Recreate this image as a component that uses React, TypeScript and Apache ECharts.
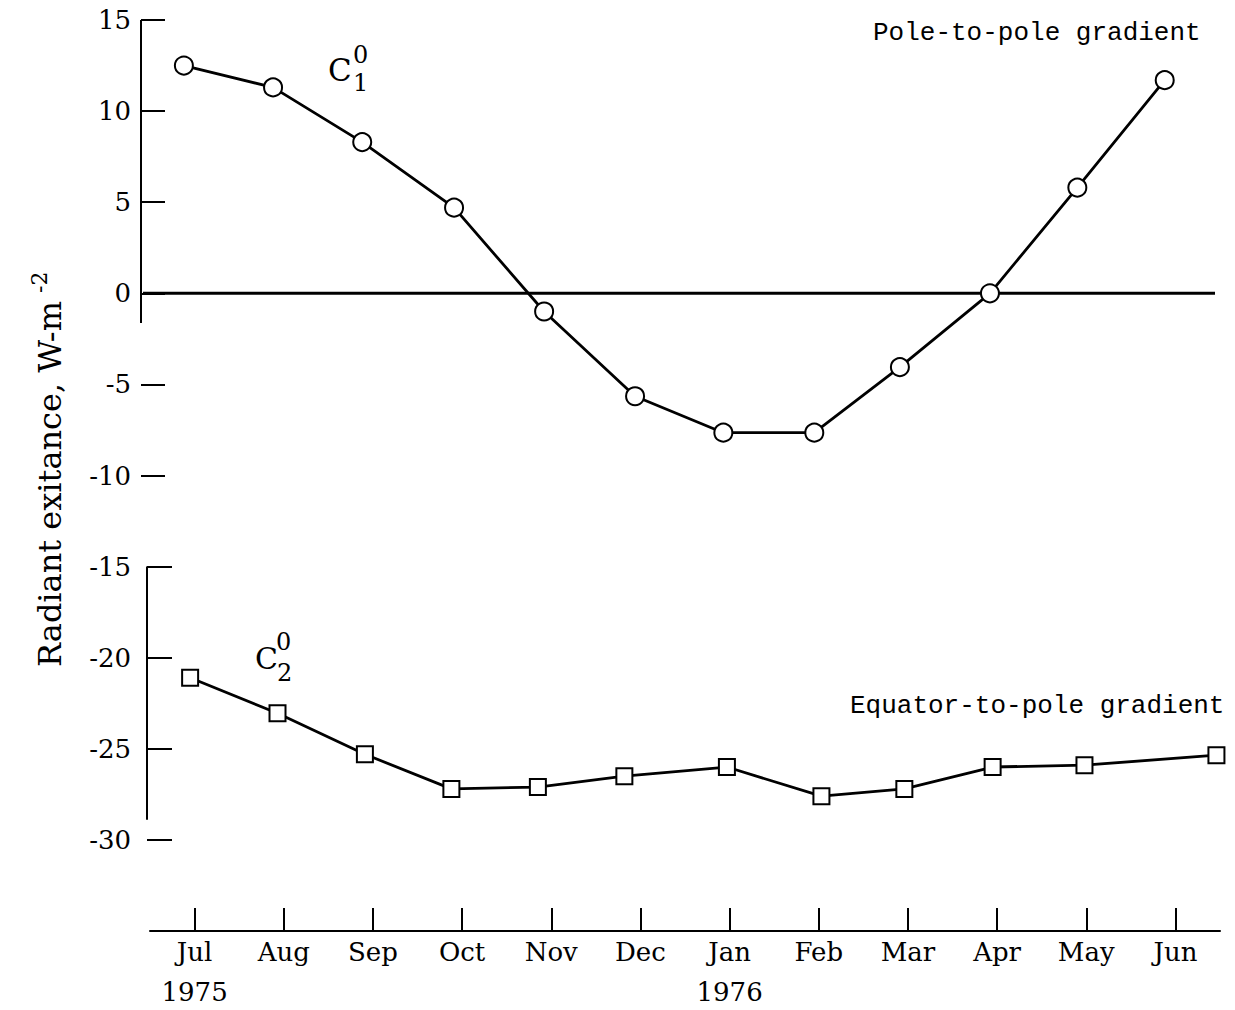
import React, { useEffect, useRef } from 'react';
import * as echarts from 'echarts';

// Month categories and year sub-labels
const months = ['Jul', 'Aug', 'Sep', 'Oct', 'Nov', 'Dec', 'Jan', 'Feb', 'Mar', 'Apr', 'May', 'Jun'];
const yearLabels = ['1975', '', '', '', '', '', '1976', '', '', '', '', ''];

// C1^0: pole-to-pole gradient (x in month units, 0 = Jul)
const c1X = [-0.12, 0.88, 1.88, 2.91, 3.92, 4.94, 5.93, 6.95, 7.91, 8.92, 9.9, 10.88];
const c1Y = [12.5, 11.3, 8.3, 4.7, -1.0, -5.65, -7.65, -7.65, -4.05, 0.0, 5.8, 11.7];

// C2^0: equator-to-pole gradient
const c2X = [-0.05, 0.93, 1.91, 2.88, 3.85, 4.82, 5.97, 7.03, 7.96, 8.95, 9.98, 11.46];
const c2Y = [-21.1, -23.05, -25.3, -27.2, -27.1, -26.5, -26.0, -27.6, -27.2, -26.0, -25.9, -25.35];

// Tick values of the broken y-axis
const upperTicks = [15, 10, 5, 0, -5, -10];
const lowerTicks = [-15, -20, -25, -30];

const SERIF = 'DejaVu Serif';
const MONO = 'Liberation Mono';

export default function App() {
  const ref = useRef<HTMLDivElement>(null);

  useEffect(() => {
    if (!ref.current) return;
    const chart = echarts.init(ref.current, undefined, { renderer: 'svg' });
    const black = '#000';
    const tickStyle = { color: black, width: 2 };

    const option: any = {
      animation: false,
      backgroundColor: '#fff',
      grid: { left: 150, right: 15, top: 20, height: 911, containLabel: false, outerBoundsMode: 'none' },
      xAxis: [
        {
          type: 'category',
          data: months,
          position: 'bottom',
          boundaryGap: true,
          axisLine: { show: true, onZero: false, lineStyle: { color: black, width: 2 } },
          axisTick: { show: true, inside: true, alignWithLabel: true, length: 23, lineStyle: tickStyle },
          axisLabel: {
            interval: 0,
            margin: 1,
            color: black,
            fontFamily: SERIF,
            fontSize: 26,
            lineHeight: 40,
            formatter: (v: string, i: number) => (yearLabels[i] ? v + '\n' + yearLabels[i] : v),
          },
          splitLine: { show: false },
        },
        { type: 'value', min: -0.5, max: 11.5, show: false, axisLine: { onZero: false } },
      ],
      yAxis: [
        {
          type: 'value',
          min: -35,
          max: 15,
          interval: 5,
          offset: 9,
          position: 'left',
          axisLine: { show: false, onZero: false },
          axisTick: { show: true, inside: true, length: 24, customValues: upperTicks, lineStyle: tickStyle },
          axisLabel: {
            show: true,
            customValues: [...upperTicks, ...lowerTicks],
            margin: 10,
            color: black,
            fontFamily: SERIF,
            fontSize: 26,
          },
          splitLine: { show: false },
        },
        {
          type: 'value',
          min: -35,
          max: 15,
          interval: 5,
          offset: 3,
          position: 'left',
          axisLine: { show: false, onZero: false },
          axisTick: { show: true, inside: true, length: 25, customValues: lowerTicks, lineStyle: tickStyle },
          axisLabel: { show: false },
          splitLine: { show: false },
        },
      ],
      series: [
        {
          name: 'C1',
          type: 'line',
          xAxisIndex: 1,
          yAxisIndex: 0,
          data: c1X.map((x, i) => [x, c1Y[i]]),
          symbol: 'circle',
          symbolSize: 18,
          lineStyle: { color: black, width: 2.8 },
          itemStyle: { color: '#fff', borderColor: black, borderWidth: 2 },
          z: 3,
        },
        {
          name: 'C2',
          type: 'line',
          xAxisIndex: 1,
          yAxisIndex: 0,
          data: c2X.map((x, i) => [x, c2Y[i]]),
          symbol: 'rect',
          symbolSize: 16,
          lineStyle: { color: black, width: 2.8 },
          itemStyle: { color: '#fff', borderColor: black, borderWidth: 2 },
          z: 3,
        },
      ],
    };
    chart.setOption(option);

    const py = (v: number) => chart.convertToPixel({ yAxisIndex: 0 }, v) as number;
    const lineStyle = { stroke: black, lineWidth: 2 };
    const txt = (text: string, x: number, y: number, size: number, family: string, align = 'left', rotation = 0) => ({
      type: 'text',
      x,
      y,
      rotation,
      z: 5,
      style: {
        text,
        fill: black,
        fontSize: size,
        fontFamily: family,
        align,
        verticalAlign: 'middle',
        textAlign: align,
        textVerticalAlign: 'middle',
      },
    });

    chart.setOption({
      graphic: [
        { type: 'line', z: 1, shape: { x1: 141, y1: py(15), x2: 141, y2: py(-1.63) }, style: lineStyle },
        { type: 'line', z: 1, shape: { x1: 147, y1: py(-15), x2: 147, y2: py(-28.9) }, style: lineStyle },
        { type: 'line', z: 1, shape: { x1: 143, y1: py(0), x2: 1215, y2: py(0) }, style: { stroke: black, lineWidth: 3 } },
        txt('Pole-to-pole gradient', 873, 33, 26, MONO),
        txt('Equator-to-pole gradient', 850, 706, 26, MONO),
        txt('C', 328, 70, 31, SERIF),
        txt('0', 353, 55, 24, SERIF),
        txt('1', 353, 83, 24, SERIF),
        txt('C', 255, 658, 30, SERIF),
        txt('0', 276, 642, 24, SERIF),
        txt('2', 277, 673, 24, SERIF),
        txt('Radiant exitance, W-m', 50, 484, 32, SERIF, 'center', Math.PI / 2),
        txt('-2', 39, 293, 22, SERIF, 'left', Math.PI / 2),
      ],
    });

    return () => chart.dispose();
  }, []);

  return (
    <div
      ref={ref}
      style={{ position: 'absolute', left: 0, top: 0, width: 1235, height: 1010, background: '#fff' }}
    />
  );
}
